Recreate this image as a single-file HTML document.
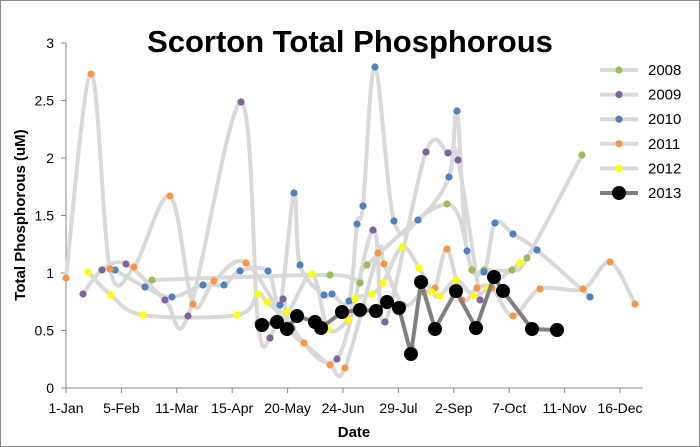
<!DOCTYPE html>
<html><head><style>
body{margin:0;background:#fff}
svg{display:block;font-family:"Liberation Sans",Arial,sans-serif}
</style></head><body>
<svg id="s" width="700" height="447" viewBox="0 0 700 447">
<rect x="0.5" y="0.5" width="699" height="446" fill="#fff" stroke="#888" stroke-width="1"/>
<text x="350" y="52" text-anchor="middle" font-size="31" font-weight="bold" fill="#000">Scorton Total Phosphorous</text>
<g id="ax" font-size="14" fill="#000"></g>
<g id="series"></g>
<g id="legend" font-size="15"></g>
<text x="0" y="0" transform="translate(25,215) rotate(-90)" text-anchor="middle" font-size="15" font-weight="bold">Total Phosphorous (uM)</text>
<text x="354" y="437" text-anchor="middle" font-size="15" font-weight="bold">Date</text>
</svg>
<script>
var NS="http://www.w3.org/2000/svg";
function el(t,a,p){var e=document.createElementNS(NS,t);for(var k in a)e.setAttribute(k,a[k]);p.appendChild(e);return e;}
var ax=document.getElementById('ax');
el('line',{x1:66,y1:43,x2:66,y2:388,stroke:'#888'},ax);
el('line',{x1:66,y1:388,x2:643,y2:388,stroke:'#888'},ax);
var yl=['0','0.5','1','1.5','2','2.5','3'];
for(var i=0;i<7;i++){var y=388-i*57.5;el('line',{x1:61,y1:y,x2:66,y2:y,stroke:'#888'},ax);var t=el('text',{x:54,y:y+5,'text-anchor':'end'},ax);t.textContent=yl[i];}
var xl=['1-Jan','5-Feb','11-Mar','15-Apr','20-May','24-Jun','29-Jul','2-Sep','7-Oct','11-Nov','16-Dec'];
for(var i=0;i<11;i++){var x=66+i*55.4;el('line',{x1:x,y1:388,x2:x,y2:393,stroke:'#888'},ax);var t=el('text',{x:x,y:413,'text-anchor':'middle'},ax);t.textContent=xl[i];}
function spline(p){var d='M'+p[0][0]+','+p[0][1];for(var i=0;i<p.length-1;i++){var p0=p[i-1]||p[i],p1=p[i],p2=p[i+1],p3=p[i+2]||p2;var c1x=p1[0]+(p2[0]-p0[0])/6,c1y=p1[1]+(p2[1]-p0[1])/6,c2x=p2[0]-(p3[0]-p1[0])/6,c2y=p2[1]-(p3[1]-p1[1])/6;d+=' C'+c1x+','+c1y+' '+c2x+','+c2y+' '+p2[0]+','+p2[1];}return d;}
var S=[
['#9BBB59',[[152,280],[330,275],[360,283],[367,265],[447,204],[472,270],[484,270],[512,270],[527,258],[582,155]]],
['#8064A2',[[83,294],[102,270],[126,264],[165,300],[188,316],[241,102],[258,323],[270,338],[283,299],[292,328],[337,359],[373,230],[385,322],[426,152],[448,153],[458,160],[480,300]]],
['#4F81BD',[[115,270],[145,287],[172,297],[203,285],[224,285],[240,271],[268,271],[280,305],[294,193],[300,265],[324,295],[332,294],[349,301],[357,224],[363,206],[375,67],[394,221],[418,220],[449,177],[457,111],[467,251],[484,272],[495,223],[513,234],[537,250],[590,297]]],
['#F79646',[[66,278],[91,74],[110,269],[134,267],[170,196],[193,304],[214,281],[246,263],[290,330],[304,343],[330,365],[345,368],[378,253],[384,264],[403,305],[423,292],[435,288],[447,249],[462,300],[477,288],[492,288],[513,316],[540,289],[583,289],[610,262],[635,304]]],
['#FFFF00',[[88,272],[111,295],[143,315],[237,315],[258,294],[267,302],[287,312],[312,274],[328,329],[348,320],[355,299],[372,294],[383,283],[402,247],[419,268],[432,292],[440,296],[456,280],[474,296],[488,288],[520,263]]]
];
var sg=document.getElementById('series');
S.forEach(function(s){el('path',{d:spline(s[1]),fill:'none',stroke:'#D9D9D9','stroke-width':4},sg);});
S.forEach(function(s){s[1].forEach(function(p){el('circle',{cx:p[0],cy:p[1],r:3.6,fill:s[0]},sg);});});
var B=[[262,325],[277,322],[287,329],[297,316],[315,322],[321,328],[342,312],[360,310],[376,311],[387,302],[399,308],[411,354],[421,282],[435,329],[456,291],[476,328],[494,277],[503,291],[532,329],[557,330]];
var pts=B.map(function(p){return p.join(',')}).join(' ');
el('polyline',{points:pts,fill:'none',stroke:'#7F7F7F','stroke-width':4},sg);
B.forEach(function(p){el('circle',{cx:p[0],cy:p[1],r:7,fill:'#000'},sg);});
var lg=document.getElementById('legend');
var L=[['2008','#9BBB59'],['2009','#8064A2'],['2010','#4F81BD'],['2011','#F79646'],['2012','#FFFF00'],['2013','#000']];
L.forEach(function(l,i){var y=70+i*24.6;var last=i==5;
el('line',{x1:600,y1:y,x2:638,y2:y,stroke:last?'#7F7F7F':'#D9D9D9','stroke-width':4},lg);
el('circle',{cx:619,cy:y,r:last?7:3.6,fill:l[1]},lg);
var t=el('text',{x:648,y:y+5},lg);t.textContent=l[0];});
</script>
</body></html>
